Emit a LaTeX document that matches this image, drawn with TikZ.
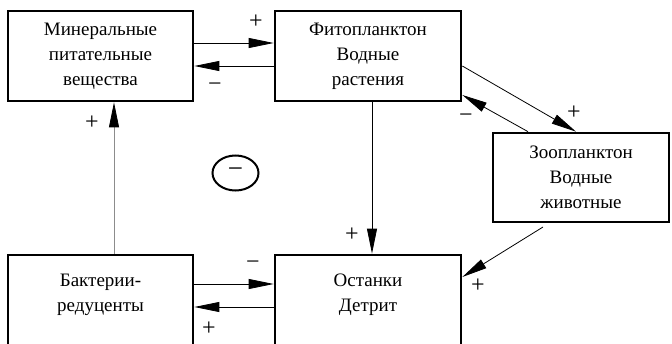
\documentclass[tikz,border=0pt]{standalone}
\usepackage{fontspec}
\setmainfont{Liberation Serif}
\usetikzlibrary{arrows.meta,shapes.geometric}
\tikzset{
  block/.style={draw, line width=2.7pt, rectangle, align=center, inner sep=0pt},
  caption/.style={align=center, inner sep=0pt},
  link/.style={line width=0.8pt, -{Triangle[length=25pt,width=10pt,color=black]}},
  graylink/.style={link, draw=black!45},
  sign/.style={inner sep=0pt, font=\fontsize{24}{24}\selectfont},
}
\begin{document}
\begin{tikzpicture}[x=1pt,y=-1pt,font=\fontsize{19}{25}\selectfont]
  \clip (0,0) rectangle (672,343);
  % boxes
  \node[block, minimum width=185, minimum height=90] (min) at (100.5,56)
    {Минеральные\\питательные\\вещества};
  \node[block, minimum width=186, minimum height=90] (phy) at (368,56)
    {Фитопланктон\\Водные\\растения};
  \node[block, minimum width=176, minimum height=89] (zoo) at (581,177.5)
    {Зоопланктон\\Водные\\животные};
  \node[block, minimum width=185, minimum height=110] (bac) at (100.5,310) {};
  \node[block, minimum width=186, minimum height=110] (ost) at (368,310) {};
  \node[caption] (bactxt) at (100.5,294.5) {Бактерии-\\редуценты};
  \node[caption] (osttxt) at (368,294.5) {Останки\\Детрит};
  % negative loop mark
  \node[draw, ellipse, line width=2pt, minimum width=46, minimum height=35, inner sep=0pt] (loop) at (235.5,173)
    {\fontsize{27}{27}\selectfont −};
  % connectors
  \draw[link] (min.east |- 0,43) -- (phy.west |- 0,43);
  \draw[link] (phy.west |- 0,66) -- (min.east |- 0,66);
  \draw[graylink] (114,0 |- bac.north) -- (114,0 |- min.south);
  \draw[link] (372,0 |- phy.south) -- (372,0 |- ost.north);
  \draw[link] (bac.east |- 0,284) -- (ost.west |- 0,284);
  \draw[link] (ost.west |- 0,307) -- (bac.east |- 0,307);
  \draw[link] (phy.east |- 0,66) -- (576,0 |- zoo.north);
  \draw[link] (528,0 |- zoo.north) -- (phy.east |- 0,95);
  \coordinate (zootail) at (543,227);
  \draw[link] (zootail) -- (ost.east |- 0,277);
  % signs
  \node[sign] (s1) at (256,22) {+};
  \node[sign] (s2) at (215,87) {−};
  \node[sign] (s3) at (92,123) {+};
  \node[sign] (s4) at (352,235) {+};
  \node[sign] (s5) at (253,265) {−};
  \node[sign] (s6) at (209,329) {+};
  \node[sign] (s7) at (574,113) {+};
  \node[sign] (s8) at (466,118) {−};
  \node[sign] (s9) at (478,286) {+};
\end{tikzpicture}
\end{document}
